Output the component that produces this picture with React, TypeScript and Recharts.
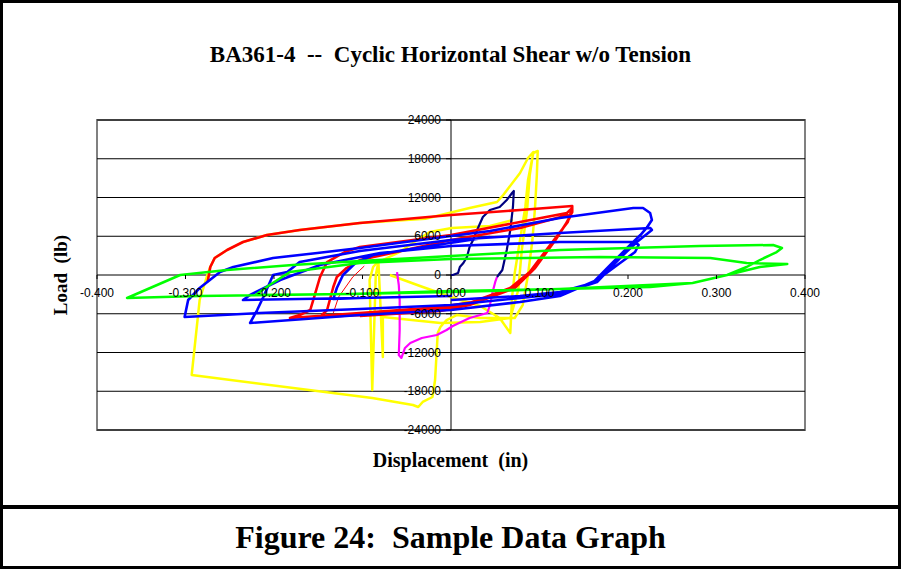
import React from 'react';
import {
  ComposedChart,
  Line,
  XAxis,
  YAxis,
  ReferenceLine,
  ReferenceArea,
  ReferenceDot,
} from 'recharts';

// axis ticks
const xTicks = [-0.4, -0.3, -0.2, -0.1, 0, 0.1, 0.2, 0.3, 0.4];
const yTicks = [-24000, -18000, -12000, -6000, 0, 6000, 12000, 18000, 24000];

// digitized loops (displacement in, load lb)
const yellowX = [-0.069, -0.035, 0, 0.033, 0.055, 0.067, 0.069, 0.072, 0.078, 0.084, 0.087, 0.093, 0.098, 0.097, 0.095, 0.092, 0.087, 0.081, 0.072, 0.033, 0.007, -0.005, -0.012, -0.015, -0.018, -0.021, -0.032, -0.037, -0.043, -0.089, -0.293, -0.284, -0.276, -0.272, -0.267, -0.253, -0.235, -0.208, -0.171, -0.103, -0.029, 0.021, 0.052, 0.059, 0.078, 0.087, 0.093, 0.089, 0.086, 0.08, 0.076, 0.067, 0.033, -0.012, -0.077, -0.077, -0.08, -0.082, -0.085, -0.089, -0.092, -0.088, -0.084, -0.06, -0.038, -0.024, 0.001, 0.044, 0.07];
const yellowY = [0, -1700, -3410, -4800, -6660, -8980, -3410, 310, 5420, 10530, 14710, 18890, 19200, 15480, 10530, 5420, 0, -4650, -6660, -6660, -6190, -6970, -8050, -8980, -16260, -18890, -19660, -20440, -20130, -19050, -15480, -3870, -310, 1240, 2630, 3870, 5110, 6190, 6970, 8050, 8700, 10370, 11300, 12390, 15790, 18120, 19050, 15480, 10060, 3870, -2320, -6660, -7280, -7430, -6500, -12700, -3870, 2010, 0, -17810, -770, 1240, 1860, 3410, 5420, 6660, 7280, 7590, 8520];

const magentaX = [0.052, 0.05, 0.047, 0.044, 0.041, 0.021, 0.002, -0.005, -0.016, -0.033, -0.046, -0.052, -0.056, -0.059, -0.058, -0.058, -0.059, -0.061];
const magentaY = [-310, -1080, -2630, -4650, -5880, -6660, -7900, -8520, -9290, -9750, -10530, -11300, -12850, -12390, -8520, -3870, -1550, 460];

const navyX = [0, 0.002, 0.008, 0.01, 0.014, 0.018, 0.021, 0.025, 0.031, 0.036, 0.044, 0.055, 0.063, 0.069, 0.071, 0.07, 0.067, 0.063, 0.058, 0.052];
const navyY = [0, 0, 310, 1240, 1860, 2790, 4340, 5420, 7430, 8980, 10060, 10530, 11610, 12700, 13010, 10530, 6970, 3870, 770, -310];

const redX = [-0.275, -0.272, -0.267, -0.253, -0.235, -0.208, -0.171, -0.103, 0, 0.078, 0.137, 0.137, 0.129, 0.118, 0.101, 0.081, 0.063, 0.025, -0.012, -0.103, -0.182, -0.171, -0.159, -0.154, -0.148, -0.14, -0.12, -0.103, 0, 0.078, 0.131, 0.137, 0.132, 0.112, 0.089, 0.067, 0.021, -0.012, -0.103, -0.148, -0.14, -0.133, -0.129, -0.118, -0.103, 0, 0.078, 0.132, 0.134, 0.118, 0.095, 0.072, 0.021, -0.012, -0.103];
const redY = [-1080, 1240, 2630, 3870, 5110, 6190, 6970, 8050, 9290, 10060, 10680, 9750, 7740, 5420, 2320, -770, -2320, -4180, -4950, -5880, -6660, -6190, -5420, -3100, -310, 2010, 3560, 4340, 6190, 8210, 9600, 10370, 8210, 4650, 460, -2010, -4340, -5260, -6190, -6500, -5420, -1860, -310, 1080, 2320, 5420, 7280, 9290, 8830, 5420, 1080, -2010, -4650, -5570, -6350];

// thin red trace between the red loops
const redThinX = [-0.133, -0.127, -0.111, -0.098];
const redThinY = [-5880, -3410, -310, 1390];

const blueX = [0, 0.078, 0.123, 0.16, 0.18, 0.199, 0.214, 0.221, 0.227, 0.225, 0.217, 0.206, 0.123, 0.044, 0, -0.103, -0.151, -0.201, -0.246, -0.261, -0.284, -0.297, -0.301, -0.216, -0.103, 0, 0.078, 0.123, 0.165, 0.191, 0.21, 0.227, 0.225, 0.123, 0, -0.103, -0.171, -0.185, -0.201, -0.212, -0.219, -0.227, -0.103, 0, 0.078, 0.123, 0.165, 0.188, 0.208, 0.212, 0.208, 0.123, 0, -0.08, -0.148, -0.193, -0.227, -0.235, -0.103, 0, -0.103, -0.133, -0.129, -0.122, -0.108, -0.088, -0.024, 0.044];
const blueY = [-3870, -3250, -2630, -1240, 1550, 4180, 6190, 7280, 8520, 9600, 10370, 10370, 8830, 6810, 6040, 4180, 3410, 2630, 1240, 460, -2010, -3870, -6500, -5880, -5260, -4650, -3560, -2940, -1080, 2630, 5110, 6970, 7280, 6500, 5420, 3720, 2010, 460, 0, -3410, -5420, -7430, -6190, -5420, -4180, -3250, -770, 1550, 3560, 4650, 5110, 5110, 4490, 3410, 1550, -770, -3100, -3870, -3560, -3250, -3560, -3720, -2010, 0, 1860, 3100, 4490, 5880];

const greenX = [0, 0.123, 0.225, 0.273, 0.312, 0.349, 0.38, 0.334, 0.293, 0.168, 0, -0.103, -0.182, -0.205, -0.221, -0.114, 0, 0.123, 0.273, 0.312, 0.334, 0.349, 0.368, 0.374, 0.364, 0.281, 0.123, 0, -0.103, -0.179, -0.253, -0.306, -0.366, -0.284, -0.114, 0];
const greenY = [-2480, -2170, -1860, -1240, 0, 1240, 1700, 1860, 2630, 2790, 2480, 1860, 460, -1550, -3100, -2940, -2630, -2170, -1240, 0, 1240, 2320, 3560, 4180, 4650, 4490, 3870, 2940, 2170, 1550, 770, 0, -3560, -3250, -2940, -2480];

const toPoints = (xs: number[], ys: number[]) => xs.map((x, i) => ({ x, y: ys[i] }));

const series = [
  { name: 'yellow', color: '#FFFF00', width: 2.5, data: toPoints(yellowX, yellowY) },
  { name: 'magenta', color: '#FF00FF', width: 2.2, data: toPoints(magentaX, magentaY) },
  { name: 'navy', color: '#000080', width: 2.2, data: toPoints(navyX, navyY) },
  { name: 'redThin', color: '#FF0000', width: 1, data: toPoints(redThinX, redThinY) },
  { name: 'red', color: '#FF0000', width: 2.6, data: toPoints(redX, redY) },
  { name: 'blue', color: '#0000FF', width: 2.6, data: toPoints(blueX, blueY) },
  { name: 'green', color: '#00FF00', width: 2.5, data: toPoints(greenX, greenY) },
];

const tickFont = { fontFamily: 'Arial, "Liberation Sans", sans-serif', fontSize: 12, fill: '#000' };

function XTickMark(props: any) {
  const { cx, cy, value } = props;
  return (
    <g>
      <line x1={cx} y1={cy} x2={cx} y2={cy + 4} stroke="#000" strokeWidth={1} />
      <text x={cx} y={cy + 22} textAnchor="middle" {...tickFont}>
        {value.toFixed(3)}
      </text>
    </g>
  );
}

function YTickMark(props: any) {
  const { cx, cy, value } = props;
  return (
    <g>
      <line x1={cx - 5} y1={cy} x2={cx} y2={cy} stroke="#000" strokeWidth={1} />
      <text x={cx - 10} y={cy + 4} textAnchor="end" {...tickFont}>
        {String(value)}
      </text>
    </g>
  );
}

const serif = '"Times New Roman", "Liberation Serif", serif';

export default function App() {
  return (
    <div style={{ position: 'absolute', left: 0, top: 0, width: 901, height: 569, background: '#fff' }}>
      <ComposedChart
        width={901}
        height={569}
        margin={{ top: 120, right: 96, bottom: 139, left: 97 }}
      >
        <XAxis type="number" dataKey="x" domain={[-0.4, 0.4]} ticks={xTicks} hide allowDataOverflow />
        <YAxis type="number" dataKey="y" domain={[-24000, 24000]} ticks={yTicks} hide allowDataOverflow />
        {yTicks.map((v) => (
          <ReferenceLine key={`g${v}`} y={v} stroke="#000" strokeWidth={1} />
        ))}
        <ReferenceArea
          x1={-0.4}
          x2={0.4}
          y1={-24000}
          y2={24000}
          fill="none"
          stroke="#808080"
          strokeWidth={2}
          fillOpacity={0}
        />
        <ReferenceLine x={0} stroke="#000" strokeWidth={1} />
        {xTicks.map((t) => (
          <ReferenceDot
            key={`xt${t}`}
            x={t}
            y={0}
            r={0}
            ifOverflow="visible"
            shape={(p: any) => <XTickMark {...p} value={t} />}
          />
        ))}
        {yTicks.map((v) => (
          <ReferenceDot
            key={`yt${v}`}
            x={0}
            y={v}
            r={0}
            ifOverflow="visible"
            shape={(p: any) => <YTickMark {...p} value={v} />}
          />
        ))}
        {series.map((s) => (
          <Line
            key={s.name}
            data={s.data}
            dataKey="y"
            type="linear"
            stroke={s.color}
            strokeWidth={s.width}
            strokeLinejoin="round"
            dot={false}
            activeDot={false}
            isAnimationActive={false}
          />
        ))}
      </ComposedChart>

      <div
        style={{
          position: 'absolute', left: 0, top: 41, width: 901, textAlign: 'center',
          fontFamily: serif, fontWeight: 'bold', fontSize: 23, lineHeight: '28px', whiteSpace: 'pre',
        }}
      >
        {'BA361-4  --  Cyclic Horizontal Shear w/o Tension'}
      </div>
      <div
        style={{
          position: 'absolute', left: 0, top: 448, width: 901, textAlign: 'center',
          fontFamily: serif, fontWeight: 'bold', fontSize: 20, lineHeight: '24px', whiteSpace: 'pre',
        }}
      >
        {'Displacement  (in)'}
      </div>
      <div
        style={{
          position: 'absolute', left: 61 - 60, top: 275 - 12, width: 120, textAlign: 'center',
          transform: 'rotate(-90deg)', fontFamily: serif, fontWeight: 'bold', fontSize: 19,
          lineHeight: '24px', whiteSpace: 'pre',
        }}
      >
        {'Load  (lb)'}
      </div>
      <div
        style={{
          position: 'absolute', left: 0, top: 518, width: 901, textAlign: 'center',
          fontFamily: serif, fontWeight: 'bold', fontSize: 32, lineHeight: '38px', whiteSpace: 'pre',
        }}
      >
        {'Figure 24:  Sample Data Graph'}
      </div>

      <div
        style={{
          position: 'absolute', left: 0, top: 0, width: 901, height: 569, boxSizing: 'border-box',
          border: '3px solid #000', pointerEvents: 'none',
        }}
      />
      <div style={{ position: 'absolute', left: 0, top: 505, width: 901, height: 4, background: '#000' }} />
    </div>
  );
}
